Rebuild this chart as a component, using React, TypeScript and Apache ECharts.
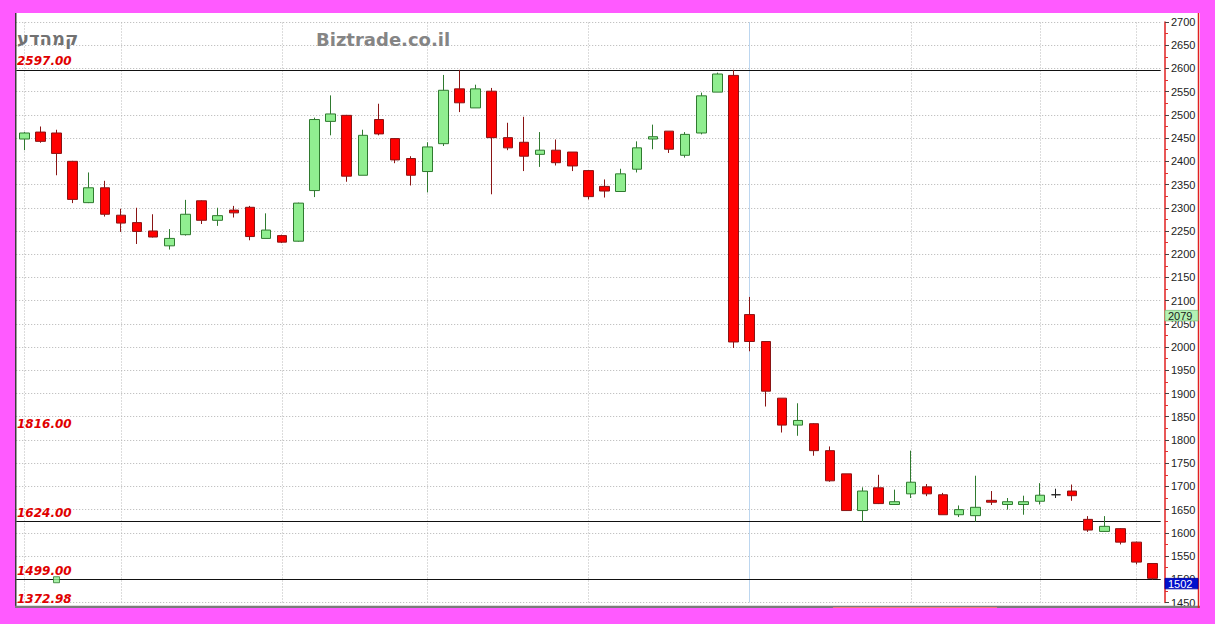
import React, { useEffect, useRef } from "react";
import * as echarts from "echarts";

// OHLC values (71 daily candles)
const openPrices = [
  2448, 2463, 2461, 2400, 2311, 2343, 2284, 2268, 2250, 2218,
  2242, 2315, 2273, 2295, 2301, 2234, 2240, 2228, 2337, 2486,
  2499, 2370, 2490, 2449, 2406, 2378, 2438, 2556, 2515, 2551,
  2451, 2441, 2415, 2424, 2420, 2380, 2346, 2335, 2383, 2448,
  2465, 2413, 2461, 2549, 2585, 2070, 2012, 1890, 1832, 1835,
  1777, 1727, 1648, 1697, 1661, 1684, 1699, 1682, 1639, 1637,
  1670, 1661, 1661, 1668, 1682, 1690, 1629, 1603, 1609, 1580,
  1534,
];
const closePrices = [
  2461, 2443, 2417, 2318, 2343, 2286, 2267, 2249, 2237, 2234,
  2286, 2273, 2283, 2289, 2238, 2252, 2226, 2310, 2490, 2502,
  2368, 2456, 2459, 2403, 2370, 2431, 2553, 2526, 2556, 2451,
  2429, 2411, 2424, 2397, 2390, 2324, 2336, 2373, 2429, 2453,
  2426, 2458, 2541, 2588, 2011, 2012, 1905, 1832, 1842, 1777,
  1712, 1648, 1690, 1663, 1667, 1709, 1684, 1639, 1650, 1655,
  1666, 1667, 1667, 1681, 1682, 1680, 1606, 1614, 1580, 1537,
  1502,
];
const lowPrices = [
  2424, 2440, 2370, 2310, 2310, 2281, 2248, 2222, 2236, 2210,
  2240, 2265, 2261, 2279, 2230, 2234, 2224, 2227, 2323, 2456,
  2356, 2370, 2456, 2396, 2348, 2333, 2433, 2506, 2515, 2329,
  2424, 2379, 2388, 2391, 2379, 2318, 2322, 2335, 2376, 2426,
  2418, 2408, 2458, 2549, 1998, 1991, 1872, 1816, 1809, 1766,
  1710, 1647, 1624, 1662, 1660, 1675, 1679, 1639, 1634, 1624,
  1660, 1650, 1639, 1661, 1675, 1669, 1602, 1602, 1575, 1532,
  1499,
];
const highPrices = [
  2463, 2475, 2468, 2401, 2376, 2358, 2298, 2300, 2286, 2254,
  2317, 2316, 2300, 2304, 2304, 2288, 2242, 2311, 2494, 2542,
  2500, 2468, 2524, 2450, 2411, 2441, 2586, 2597, 2565, 2558,
  2483, 2496, 2463, 2447, 2420, 2381, 2361, 2384, 2443, 2479,
  2465, 2463, 2548, 2591, 2597, 2108, 2013, 1890, 1879, 1836,
  1786, 1727, 1698, 1725, 1693, 1777, 1705, 1686, 1659, 1723,
  1690, 1675, 1680, 1707, 1695, 1704, 1636, 1636, 1610, 1581,
  1534,
];
const categories = openPrices.map((_, i) => String(i + 1));

const yMin = 1450;
const yMax = 2700;
const yStep = 50;

const levelLines = [2597, 1624, 1499];
const levelLabels = [2597, 1816, 1624, 1499];
const bottomLabelText = "1372.98";
const monthStarts = [0, 6, 16, 25, 35, 45, 55, 63, 69];
const highlightedMonth = 45;
const lowMarkers = [[2, 1499]];
const badgeValues = [2079, 1502];
const badgeFills = ["#b4f2b4", "#0010cc"];
const badgeTextColors = ["#1a1a1a", "#ffffff"];

const titleText = "קמהדע";
const siteText = "Biztrade.co.il";

export default function App() {
  const ref = useRef<HTMLDivElement>(null);

  useEffect(() => {
    document.body.style.margin = "0";
    const chart = echarts.init(ref.current!, null, { renderer: "svg" });
    const data = openPrices.map((o, i) => [o, closePrices[i], lowPrices[i], highPrices[i]]);

    const vLines = monthStarts.map((idx) => ({
      xAxis: idx,
      lineStyle:
        idx === highlightedMonth
          ? { color: "#bcd6ef", type: "solid", width: 1 }
          : { color: "#b8b8b8", type: [1, 2], width: 1 },
    }));
    const hLines = levelLines.map((v) => ({
      yAxis: v,
      lineStyle: { color: "#111111", type: "solid", width: 1.2 },
    }));

    chart.setOption({
      animation: false,
      backgroundColor: "#ffffff",
      grid: { left: 1.2, right: 39.3, top: 9, bottom: 4 },
      xAxis: {
        type: "category",
        data: categories,
        boundaryGap: true,
        axisLine: { show: false },
        axisTick: { show: false },
        axisLabel: { show: false },
        splitLine: { show: false },
      },
      yAxis: {
        type: "value",
        position: "right",
        offset: 4.3,
        min: yMin,
        max: yMax,
        interval: yStep,
        axisLine: { show: true, lineStyle: { color: "#e02020", width: 1.5 } },
        axisTick: { show: true, length: 4, inside: false, lineStyle: { color: "#444444" } },
        minorTick: { show: true, splitNumber: 2, length: 3, lineStyle: { color: "#e03030" } },
        axisLabel: {
          color: "#222222",
          fontSize: 11,
          fontFamily: "Liberation Sans",
          margin: 6,
          showMinLabel: true,
          showMaxLabel: true,
          formatter: (v: number) => String(v),
        },
        splitLine: { show: true, lineStyle: { color: "#b4b4b4", type: [1, 2], width: 1 } },
      },
      series: [
        {
          type: "line",
          data: [],
          z: 1,
          markLine: {
            silent: true,
            z: 1,
            symbol: ["none", "none"],
            label: { show: false },
            animation: false,
            data: [...vLines, ...hLines],
          },
        },
        {
          type: "candlestick",
          data,
          barWidth: 10,
          itemStyle: {
            color: "#90ee90",
            color0: "#ff0000",
            borderColor: "#2f7a2f",
            borderColor0: "#8a1414",
            borderColorDoji: "#222222",
            borderWidth: 1,
          },
          z: 3,
        },
        {
          type: "scatter",
          data: lowMarkers,
          symbol: "rect",
          symbolSize: 6,
          itemStyle: { color: "#90ee90", borderColor: "#2f7a2f", borderWidth: 1 },
          z: 4,
        },
      ],
    });

    const py = (v: number) => chart.convertToPixel({ yAxisIndex: 0 }, v) as number;
    const redText = {
      fill: "#e00000",
      fontFamily: "DejaVu Sans",
      fontWeight: "bold",
      fontStyle: "italic",
      fontSize: 12,
    };

    const graphics: any[] = [];
    graphics.push({
      type: "text",
      left: 2,
      top: 16,
      style: { text: titleText, fill: "#727272", fontFamily: "DejaVu Sans", fontWeight: "bold", fontSize: 18 },
      z: 10,
    });
    graphics.push({
      type: "text",
      left: 301,
      top: 17,
      style: { text: siteText, fill: "#858585", fontFamily: "DejaVu Sans", fontWeight: "bold", fontSize: 18 },
      z: 10,
    });
    levelLabels.forEach((v) => {
      graphics.push({
        type: "text",
        x: 2,
        y: py(v) - 8.5,
        style: { ...redText, text: v.toFixed(2), textVerticalAlign: "middle", textAlign: "left" },
        z: 10,
      });
    });
    graphics.push({
      type: "text",
      x: 2,
      y: py(yMin) - 4,
      style: { ...redText, text: bottomLabelText, textVerticalAlign: "middle", textAlign: "left" },
      z: 10,
    });
    badgeValues.forEach((v, i) => {
      const y = py(v);
      graphics.push({
        type: "rect",
        shape: { x: 1150, y: y, width: 33, height: 10.5 },
        style: { fill: badgeFills[i], stroke: i === 0 ? "#7cc27c" : "#0000a0", lineWidth: 0.8 },
        z: 20,
      });
      graphics.push({
        type: "text",
        x: 1153,
        y: y + 5.5,
        style: {
          text: String(v),
          fill: badgeTextColors[i],
          fontFamily: "Liberation Sans",
          fontSize: 11,
          textVerticalAlign: "middle",
        },
        z: 21,
      });
    });
    // frame lines
    graphics.push({
      type: "line",
      shape: { x1: 0.75, y1: 0, x2: 0.75, y2: 595 },
      style: { stroke: "#3a3a3a", lineWidth: 1.5 },
      z: 15,
    });
    graphics.push({
      type: "line",
      shape: { x1: 0, y1: 594, x2: 1185, y2: 594 },
      style: { stroke: "#7a7a7a", lineWidth: 2.5 },
      z: 15,
    });
    graphics.push({
      type: "line",
      shape: { x1: 818, y1: 594.5, x2: 982, y2: 594.5 },
      style: { stroke: "#ee7a7a", lineWidth: 1.2 },
      z: 16,
    });
    graphics.push({
      type: "line",
      shape: { x1: 1183.5, y1: 0, x2: 1183.5, y2: 595 },
      style: { stroke: "#e02020", lineWidth: 1.5 },
      z: 15,
    });

    chart.setOption({ graphic: graphics });

    return () => chart.dispose();
  }, []);

  return (
    <div
      style={{
        position: "fixed",
        left: 0,
        top: 0,
        width: 1215,
        height: 624,
        background: "#ff5aff",
      }}
    >
      <div
        ref={ref}
        style={{ position: "absolute", left: 15, top: 13, width: 1185, height: 595 }}
      />
    </div>
  );
}
